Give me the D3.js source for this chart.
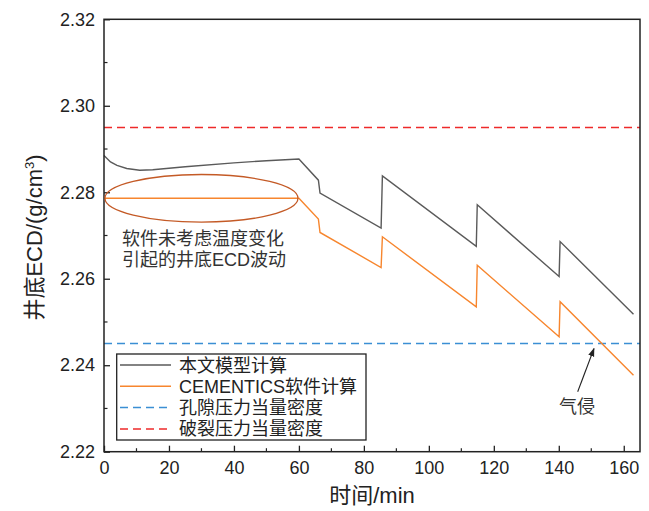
<!DOCTYPE html>
<html><head><meta charset="utf-8">
<script src="https://cdn.jsdelivr.net/npm/d3@7"></script>
<style>
body{margin:0;background:#fff;}
text{font-family:"Liberation Sans","Noto Sans CJK SC",Arial,sans-serif;fill:#222;}
</style></head>
<body><svg id="c" width="649" height="511"></svg>
<script>
// ---- data ----
const modelTime = [0,2,4,7,11,15,25,40,50,60,66,66.5,85.3,85.7,114.6,114.9,140.1,140.4,163];
const modelECD  = [2.2885,2.2870,2.2862,2.2855,2.2851,2.2852,2.2859,2.2868,2.2873,2.2877,2.2828,2.2798,2.2717,2.2838,2.2675,2.2771,2.2605,2.2686,2.2518];
const cemTime = [0,60,66,66.5,85.3,85.7,114.6,114.9,140.1,140.4,163];
const cemECD  = [2.2786,2.2786,2.2738,2.2707,2.2626,2.2697,2.2535,2.2631,2.2466,2.2547,2.2377];
const porePressure = 2.245;
const fracPressure = 2.295;
const xTicks = [0,20,40,60,80,100,120,140,160];
const yTicks = [2.22,2.24,2.26,2.28,2.30,2.32];
const legendLabels = ["本文模型计算","CEMENTICS软件计算","孔隙压力当量密度","破裂压力当量密度"];
const xTitle = "时间/min";
const noteLines = ["软件未考虑温度变化","引起的井底ECD波动"];
const gasNote = "气侵";

const L=104,R=640,T=19.3,B=451.7;
const svg=d3.select("#c");
const x=d3.scaleLinear().domain([0,165]).range([L,R]);
const y=d3.scaleLinear().domain([2.22,2.32]).range([B,T]);

const colGray="#5a5a5a", colOrange="#f7862e", colBlue="#3b8fd4", colRed="#ee2a2a";

// reference lines
svg.append("line").attr("x1",L).attr("x2",R).attr("y1",y(fracPressure)).attr("y2",y(fracPressure))
  .attr("stroke",colRed).attr("stroke-width",1.5).attr("stroke-dasharray","8,5");
svg.append("line").attr("x1",L).attr("x2",R).attr("y1",y(porePressure)).attr("y2",y(porePressure))
  .attr("stroke",colBlue).attr("stroke-width",1.5).attr("stroke-dasharray","8,5");

const line=d3.line().x(d=>x(d[0])).y(d=>y(d[1]));
svg.append("path").datum(d3.zip(modelTime,modelECD)).attr("d",line)
  .attr("fill","none").attr("stroke",colGray).attr("stroke-width",1.4);
svg.append("path").datum(d3.zip(cemTime,cemECD)).attr("d",line)
  .attr("fill","none").attr("stroke",colOrange).attr("stroke-width",1.4);

// axes
const xAxis=d3.axisBottom(x).tickValues(xTicks).tickSizeInner(-6).tickSizeOuter(0).tickPadding(10);
const yAxis=d3.axisLeft(y).tickValues(yTicks).tickFormat(d3.format(".2f")).tickSizeInner(-6).tickSizeOuter(0).tickPadding(9);
const gx=svg.append("g").attr("transform",`translate(0,${B})`).call(xAxis);
const gy=svg.append("g").attr("transform",`translate(${L},0)`).call(yAxis);
[gx,gy].forEach(g=>{g.select(".domain").remove();g.selectAll("line").attr("stroke","#222").attr("stroke-width",1.3);
  g.selectAll("text").attr("font-size",18).style("fill","#222");});
// minor ticks
const xMinor=d3.range(10,165,20), yMinor=[2.23,2.25,2.27,2.29,2.31];
svg.append("g").selectAll("line").data(xMinor).join("line")
  .attr("x1",d=>x(d)).attr("x2",d=>x(d)).attr("y1",B).attr("y2",B-3.5).attr("stroke","#222").attr("stroke-width",1.2);
svg.append("g").selectAll("line").data(yMinor).join("line")
  .attr("y1",d=>y(d)).attr("y2",d=>y(d)).attr("x1",L).attr("x2",L+3.5).attr("stroke","#222").attr("stroke-width",1.2);
// frame
svg.append("rect").attr("x",L).attr("y",T).attr("width",R-L).attr("height",B-T)
  .attr("fill","none").attr("stroke","#222").attr("stroke-width",1.5);

// axis titles
svg.append("text").attr("x",(L+R)/2).attr("y",503).attr("text-anchor","middle").attr("font-size",22).text(xTitle);
const yt=svg.append("text").attr("transform",`translate(42,${(T+B)/2 + 2}) rotate(-90)`).attr("text-anchor","middle").attr("font-size",22);
yt.append("tspan").text("井底ECD/(g/cm");
yt.append("tspan").attr("font-size",13).attr("dy",-8).text("3");
yt.append("tspan").attr("dy",8).text(")");

// ellipse annotation
svg.append("ellipse").attr("cx",x(30)).attr("cy",y(2.2786)).attr("rx",96.5).attr("ry",23.8)
  .attr("fill","none").attr("stroke","#c45a26").attr("stroke-width",1.3);
svg.append("g").selectAll("text").data(noteLines).join("text")
  .attr("x",122).attr("y",(d,i)=>245+i*21).attr("font-size",18).style("fill","#333").text(d=>d);

// gas invasion arrow
const defs=svg.append("defs");
defs.append("marker").attr("id","ah").attr("viewBox","0 0 10 10").attr("refX",9).attr("refY",5)
  .attr("markerWidth",8).attr("markerHeight",8).attr("orient","auto")
  .append("path").attr("d","M0,1.5L10,5L0,8.5Z").attr("fill","#222");
svg.append("line").attr("x1",577.7).attr("y1",391.7).attr("x2",594).attr("y2",348.5)
  .attr("stroke","#222").attr("stroke-width",1.1).attr("marker-end","url(#ah)");
svg.append("text").attr("x",577).attr("y",413).attr("text-anchor","middle").attr("font-size",18).style("fill","#333").text(gasNote);

// legend
const lg=svg.append("g");
lg.append("rect").attr("x",116.7).attr("y",354).attr("width",249.3).attr("height",86)
  .attr("fill","#fff").attr("stroke","#222").attr("stroke-width",1.3);
const lcol=[colGray,colOrange,colBlue,colRed], ldash=[null,null,"8,5","8,5"];
legendLabels.forEach((t,i)=>{
  const yy=365+i*21.3;
  lg.append("line").attr("x1",120).attr("x2",171).attr("y1",yy).attr("y2",yy)
    .attr("stroke",lcol[i]).attr("stroke-width",1.5).attr("stroke-dasharray",ldash[i]);
  lg.append("text").attr("x",179).attr("y",yy+6.5).attr("font-size",18).text(t);
});
</script></body></html>
